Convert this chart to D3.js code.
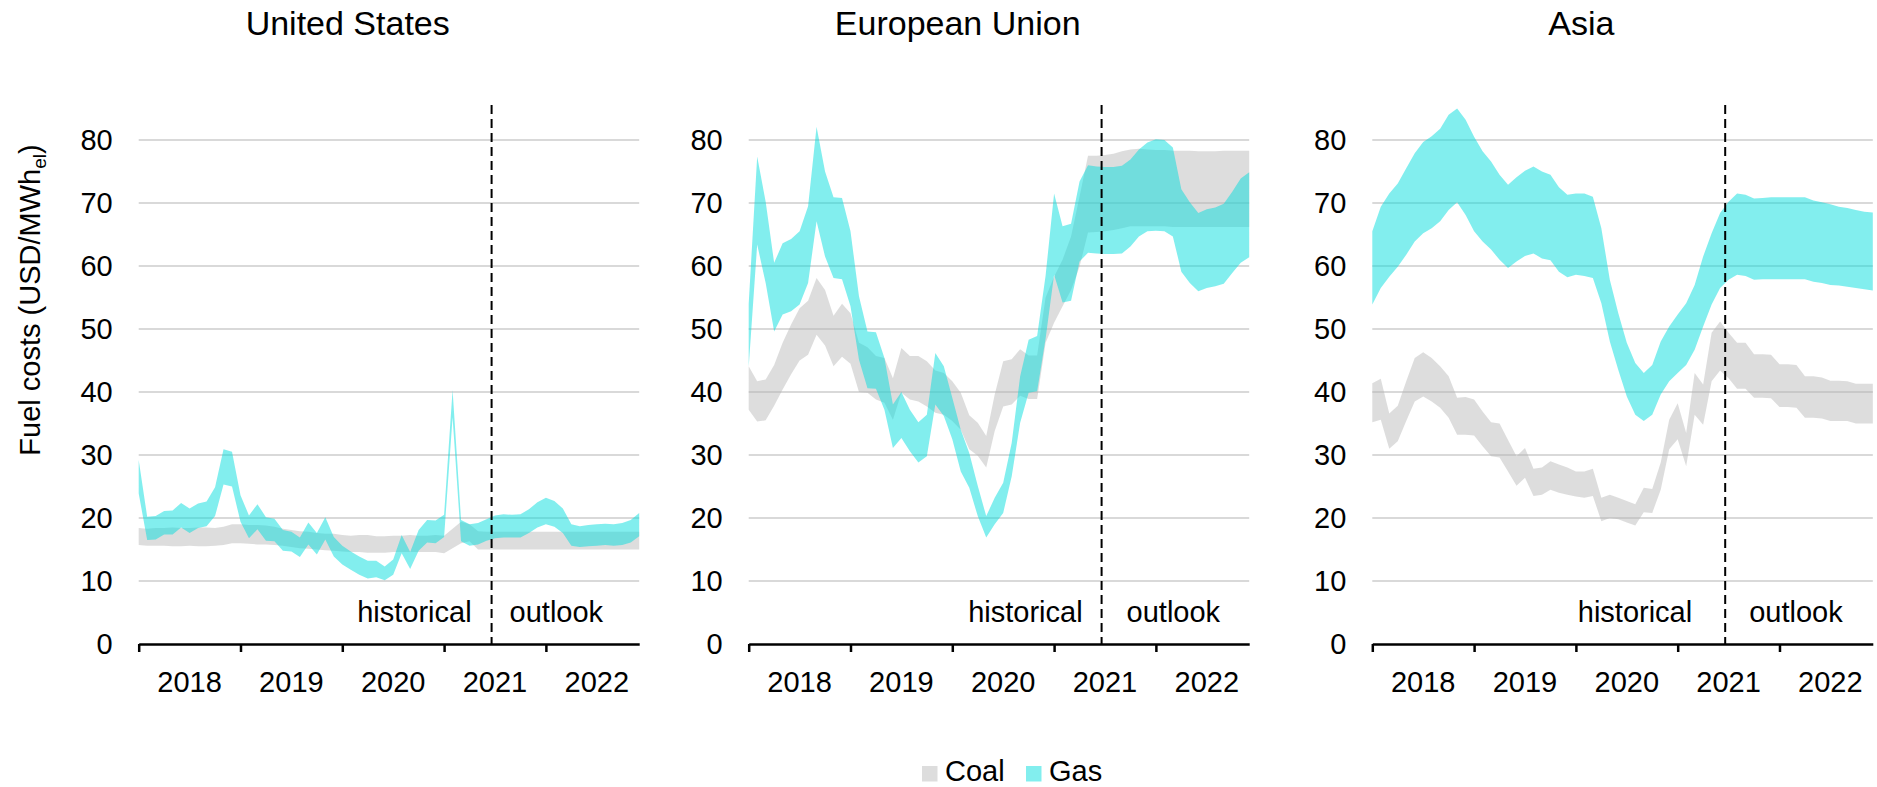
<!DOCTYPE html>
<html lang="en">
<head>
<meta charset="utf-8">
<title>Fuel costs by region</title>
<style>
body { margin: 0; background: #fff; }
svg text { font-family: "Liberation Sans", Arial, sans-serif; font-size: 29px; fill: #000; }
.title { font-size: 34px; }
.grid line { stroke: #d9d9d9; stroke-width: 2; }
.xaxis path, .xaxis line { stroke: #000; stroke-width: 2.5; }
.coal { fill: rgb(180,180,180); fill-opacity: 0.45; }
.gas { fill: rgb(0,220,220); fill-opacity: 0.49; }
</style>
</head>
<body>
<div id="chart"></div>
<script src="https://d3js.org/d3.v7.min.js"></script>
<script>
// categories and tick labels
const years = ["2018", "2019", "2020", "2021", "2022"];
const monthNames = ["Jan", "Feb", "Mar", "Apr", "May", "Jun", "Jul", "Aug", "Sep", "Oct", "Nov", "Dec"];
const months = years.flatMap(y => monthNames.map(m => m + " " + y));
const yTicks = [0, 10, 20, 30, 40, 50, 60, 70, 80];
const outlookMonth = "Jun 2021";   // outlook starts part way into this month
const outlookFrac = 0.6;

// United States (USD/MWh_el)
const usCoalHigh = [18.4,18.3,18.4,18.4,18.5,18.4,18.4,18.5,18.5,18.4,
  18.6,19.0,19.0,18.9,18.9,18.8,18.6,18.3,18.1,17.9,
  17.8,17.6,17.5,17.5,17.3,17.2,17.3,17.3,17.1,17.1,
  17.2,17.2,17.3,17.2,17.2,17.3,17.2,18.3,19.4,19.0,
  17.9,17.8,17.8,17.8,17.8,17.8,17.8,17.8,17.8,17.8,
  17.8,17.8,17.8,17.8,17.8,17.8,17.8,17.8,17.8,17.8];
const usCoalLow = [15.7,15.6,15.6,15.6,15.5,15.5,15.6,15.5,15.5,15.6,
  15.7,16.0,16.0,15.9,15.8,15.8,15.7,15.6,15.4,15.2,
  15.1,15.0,14.9,14.8,14.7,14.6,14.6,14.5,14.5,14.5,
  14.6,14.6,14.6,14.6,14.6,14.6,14.4,15.2,16.0,16.3,
  15.0,15.0,15.0,15.0,15.0,15.0,15.0,15.0,15.0,15.0,
  15.0,15.0,15.0,15.0,15.0,15.0,15.0,15.0,15.0,15.0];
const usGasHigh = [29.2,20.2,20.3,21.1,21.2,22.4,21.5,22.3,22.6,24.9,
  30.9,30.5,23.6,20.4,22.2,20.1,19.9,18.1,17.8,16.9,
  19.3,17.6,20.1,17.0,15.6,14.7,13.9,13.2,13.2,12.3,
  13.4,17.3,14.6,18.1,19.7,19.6,20.5,40.3,19.7,19.0,
  19.2,19.8,20.4,20.6,20.5,20.6,21.4,22.5,23.2,22.7,
  21.5,19.0,18.7,18.9,19.0,19.1,19.0,19.2,19.7,20.8];
const usGasLow = [23.9,16.5,16.6,17.4,17.4,18.5,17.6,18.4,18.7,20.3,
  25.3,25.0,19.4,16.8,18.2,16.4,16.3,14.8,14.7,13.8,
  15.8,14.2,16.6,13.9,12.6,11.8,11.0,10.4,10.6,10.1,
  11.0,14.4,11.9,14.8,16.1,16.0,17.0,36.0,16.3,15.6,
  15.8,16.4,16.8,16.9,16.9,16.9,17.6,18.5,19.0,18.6,
  17.6,15.6,15.4,15.5,15.6,15.7,15.6,15.7,16.1,17.1];

// European Union
const euCoalHigh = [44.1,41.7,42.0,44.3,47.8,50.7,53.3,54.5,58.1,56.2,
  52.1,54.0,52.5,47.8,47.1,45.7,45.4,42.2,47.0,45.7,
  45.7,44.9,43.4,43.0,41.7,39.9,36.3,35.1,33.0,39.6,
  44.9,45.2,46.8,45.8,45.8,55.0,58.3,61.0,64.7,71.0,
  77.5,77.5,77.6,77.8,78.2,78.5,78.6,78.5,78.4,78.4,
  78.3,78.3,78.3,78.2,78.2,78.2,78.3,78.3,78.3,78.3];
const euCoalLow = [37.2,35.3,35.5,37.8,40.4,42.8,45.0,45.9,49.1,47.4,
  44.1,45.6,44.5,40.0,39.9,38.8,38.3,35.6,39.9,38.8,
  38.5,37.7,36.7,36.4,35.4,34.0,30.9,29.9,28.0,33.8,
  37.7,38.0,39.4,38.9,38.9,47.8,51.0,53.6,56.2,59.9,
  65.3,65.4,65.5,65.7,66.0,66.3,66.3,66.3,66.3,66.3,
  66.2,66.2,66.2,66.2,66.2,66.2,66.2,66.2,66.2,66.2];
const euGasHigh = [54.0,77.4,70.2,60.5,63.6,64.3,65.5,69.5,82.1,75.0,
  70.9,70.8,65.5,55.2,49.6,49.5,45.4,38.0,40.0,37.2,
  35.2,36.4,46.2,44.1,39.1,34.0,30.3,25.1,20.3,23.2,
  25.6,31.9,42.5,48.3,48.9,58.5,71.5,66.3,66.7,73.4,
  76.0,75.8,75.7,75.7,75.9,76.9,78.5,79.6,80.1,80.0,
  78.8,72.2,70.1,68.4,69.0,69.3,69.9,71.8,73.9,74.9];
const euGasLow = [44.0,63.4,57.3,49.6,52.3,52.8,53.9,57.3,67.1,61.5,
  58.1,57.9,53.6,45.1,40.6,40.5,37.2,31.1,32.7,30.6,
  28.8,29.8,38.0,36.2,32.5,27.4,24.8,20.3,16.9,19.0,
  20.8,26.6,35.1,39.9,40.1,48.5,58.6,54.2,54.5,60.7,
  62.1,62.0,61.9,61.9,62.0,63.1,64.7,65.5,65.6,65.5,
  64.7,59.1,57.3,56.0,56.5,56.8,57.2,58.9,60.5,61.4];

// Asia
const asCoalHigh = [41.4,42.1,36.6,37.8,41.7,45.4,46.3,45.4,44.1,42.5,
  39.1,39.2,38.8,36.9,35.2,35.0,32.4,29.8,31.1,27.8,
  28.0,29.0,28.5,28.0,27.4,27.4,27.8,23.2,23.7,23.2,
  22.7,22.2,24.8,24.6,28.8,35.6,38.2,33.5,43.0,41.2,
  49.4,51.2,49.4,47.8,47.8,46.0,46.0,45.9,44.4,44.4,
  44.3,42.5,42.5,42.3,41.8,41.8,41.7,41.3,41.3,41.3];
const asCoalLow = [35.2,35.6,31.0,32.2,35.4,38.5,39.3,38.5,37.5,35.9,
  33.2,33.2,33.1,31.4,29.8,29.6,27.4,25.1,26.4,23.5,
  23.7,24.5,24.0,23.7,23.4,23.2,23.5,19.5,20.0,19.8,
  19.3,18.8,20.9,20.8,24.5,30.9,32.5,28.2,36.4,34.8,
  41.7,43.4,42.2,40.5,40.5,39.1,39.1,39.0,37.6,37.6,
  37.5,35.9,35.9,35.8,35.4,35.4,35.4,35.0,35.0,35.0];
const asGasHigh = [65.5,69.4,71.5,73.1,75.5,77.9,79.7,80.6,81.8,84.0,
  85.0,83.2,80.5,78.2,76.6,74.5,72.9,74.1,75.1,75.8,
  75.0,74.5,72.5,71.3,71.5,71.5,71.0,66.0,57.8,52.5,
  47.8,44.6,43.0,44.3,48.0,50.4,52.3,54.1,57.0,61.5,
  65.2,68.4,70.2,71.5,71.3,70.7,70.8,70.9,70.9,70.9,
  70.9,70.9,70.4,70.1,69.8,69.4,69.2,68.9,68.6,68.5];
const asGasLow = [53.9,56.5,58.3,59.9,61.8,63.9,65.2,66.0,67.1,68.9,
  70.1,68.1,65.5,63.9,62.6,61.0,59.7,60.7,61.6,62.0,
  61.2,60.9,59.1,58.2,58.6,58.4,58.1,54.1,48.0,43.5,
  39.3,36.4,35.4,36.4,39.6,41.7,43.0,44.3,46.7,50.4,
  53.9,56.5,57.8,58.6,58.4,57.8,57.9,57.9,57.9,57.9,
  57.9,57.9,57.5,57.3,57.0,56.9,56.7,56.5,56.3,56.1];

const panels = [
  { name: "United States", coal: [usCoalLow, usCoalHigh], gas: [usGasLow, usGasHigh], left: 138.7, hist: 20, out: 18 },
  { name: "European Union", coal: [euCoalLow, euCoalHigh], gas: [euGasLow, euGasHigh], left: 748.7, hist: 19, out: 25 },
  { name: "Asia", coal: [asCoalLow, asCoalHigh], gas: [asGasLow, asGasHigh], left: 1372.3, hist: 33, out: 24 }
];

const width = 1877, height = 787;
const W = 500.5;

const svg = d3.select("#chart").append("svg")
  .attr("width", width)
  .attr("height", height);

const x = d3.scalePoint().domain(months).range([0, W]);
const y = d3.scaleLinear().domain([0, 80]).range([644, 140]);
const step = x.step();
const yearStarts = years.map(yr => "Jan " + yr);

panels.forEach(p => {
  const g = svg.append("g").attr("transform", `translate(${p.left},0)`);

  // title
  g.append("text")
    .attr("class", "title")
    .attr("x", 209)
    .attr("y", 35)
    .attr("text-anchor", "middle")
    .text(p.name);

  // gridlines
  g.append("g").attr("class", "grid")
    .selectAll("line")
    .data(yTicks.filter(v => v > 0))
    .join("line")
    .attr("x1", 0).attr("x2", W)
    .attr("y1", d => y(d)).attr("y2", d => y(d));

  // bands
  const band = ([lo, hi]) => d3.area()
    .x((d, i) => x(months[i]))
    .y0((d, i) => y(lo[i]))
    .y1((d, i) => y(hi[i]))(months);

  g.append("path").attr("class", "coal").attr("d", band(p.coal));
  g.append("path").attr("class", "gas").attr("d", band(p.gas));

  // y axis labels
  g.append("g")
    .call(d3.axisLeft(y).tickValues(yTicks).tickSize(0).tickPadding(26))
    .call(a => a.select(".domain").remove());

  // x axis
  g.append("g")
    .attr("class", "xaxis")
    .attr("transform", `translate(0,${y(0)})`)
    .call(d3.axisBottom(x).tickValues(yearStarts).tickFormat("").tickSizeInner(8).tickSizeOuter(0));

  g.selectAll(".yearlab")
    .data(years)
    .join("text")
    .attr("class", "yearlab")
    .attr("x", yr => x("Jan " + yr) + 6 * step)
    .attr("y", y(0) + 48)
    .attr("text-anchor", "middle")
    .text(yr => yr);

  // historical / outlook divider
  const xo = x(outlookMonth) + outlookFrac * step;
  g.append("line")
    .attr("x1", xo).attr("x2", xo)
    .attr("y1", 105).attr("y2", y(0))
    .attr("stroke", "#000")
    .attr("stroke-width", 2)
    .attr("stroke-dasharray", "9,5");

  g.append("text")
    .attr("x", xo - p.hist)
    .attr("y", 622)
    .attr("text-anchor", "end")
    .text("historical");

  g.append("text")
    .attr("x", xo + p.out)
    .attr("y", 622)
    .text("outlook");
});

// y axis title
const yt = svg.append("text")
  .attr("transform", "translate(40,300) rotate(-90)")
  .attr("text-anchor", "middle");
yt.append("tspan").text("Fuel costs (USD/MWh");
yt.append("tspan").attr("dy", 6).style("font-size", "19px").text("el");
yt.append("tspan").attr("dy", -6).text(")");

// legend
const legend = [
  { label: "Coal", cls: "coal", x: 922 },
  { label: "Gas", cls: "gas", x: 1026 }
];
const lg = svg.append("g");
legend.forEach(l => {
  lg.append("rect")
    .attr("class", l.cls)
    .attr("x", l.x).attr("y", 766)
    .attr("width", 15.5).attr("height", 15.5);
  lg.append("text")
    .attr("x", l.x + 23)
    .attr("y", 781)
    .text(l.label);
});
</script>
</body>
</html>
